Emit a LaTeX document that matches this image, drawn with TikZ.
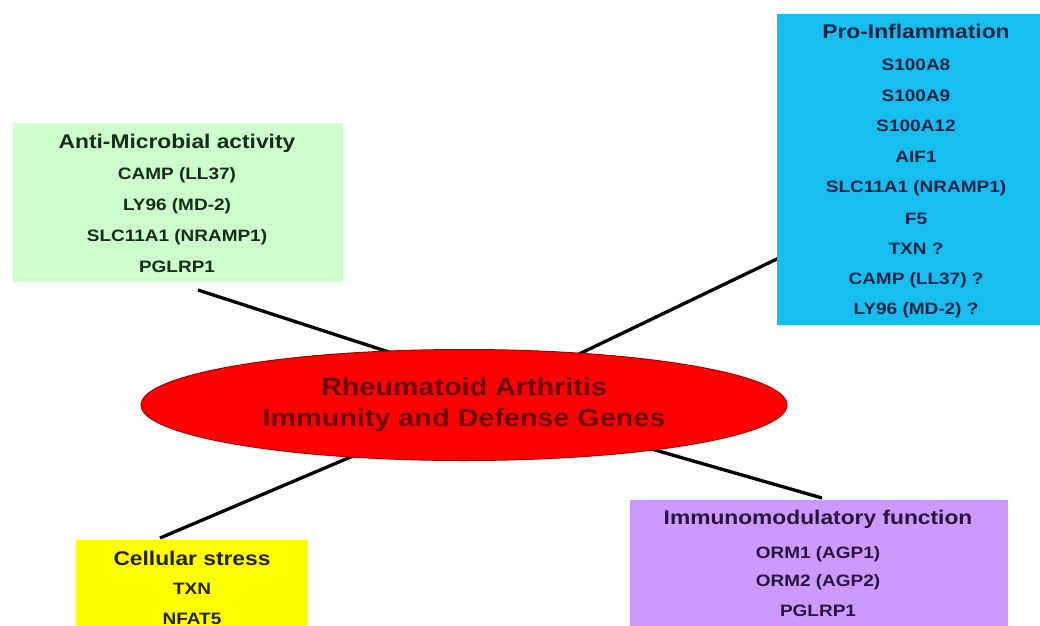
\documentclass[tikz,border=0pt]{standalone}
\usepackage{fontspec}
\setmainfont{Liberation Sans}[FakeStretch=1.15]
\usetikzlibrary{shapes.geometric,backgrounds,calc}
\definecolor{boxgreen}{RGB}{204,255,204}
\definecolor{boxblue}{RGB}{22,190,240}
\definecolor{boxyellow}{RGB}{255,255,0}
\definecolor{boxpurple}{RGB}{204,153,255}
\definecolor{hubred}{RGB}{255,0,0}
\definecolor{hubedge}{RGB}{170,0,0}
\definecolor{hubtext}{RGB}{105,0,0}
\definecolor{txtgreen}{RGB}{20,45,25}
\definecolor{txtblue}{RGB}{15,35,70}
\definecolor{txtyellow}{RGB}{35,35,0}
\definecolor{txtpurple}{RGB}{40,20,60}
\begin{document}
\begin{tikzpicture}[x=1pt,y=1pt,
  panel/.style={draw=none, inner sep=0pt, outer sep=0pt, anchor=north west},
  titletext/.style={font=\bfseries\fontsize{19.8}{24}\selectfont, inner sep=0pt, anchor=base},
  itemtext/.style={font=\bfseries\fontsize{16.5}{20}\selectfont, inner sep=0pt, anchor=base},
  conn/.style={line width=3.3pt, black}]
\useasboundingbox (0,0) rectangle (1040,625);
\clip (0,0) rectangle (1040,625);

% panels
\node[panel, fill=boxgreen, minimum width=330pt, minimum height=159pt] (green) at (13,502) {};
\node[panel, fill=boxblue, minimum width=278pt, minimum height=311pt] (blue) at (777,611) {};
\node[panel, fill=boxyellow, minimum width=232pt, minimum height=140pt] (yellow) at (76,85) {};
\node[panel, fill=boxpurple, minimum width=378pt, minimum height=150pt] (purple) at (630,125) {};

% hub
\node[ellipse, fill=hubred, draw=hubedge, line width=1pt, minimum width=646pt, minimum height=111pt,
      inner sep=0pt, outer sep=0pt, align=center, text=hubtext,
      font=\bfseries\fontsize{25}{31}\selectfont] (hub) at (464,220)
      {Rheumatoid Arthritis\\Immunity and Defense Genes};

% green texts
\begin{scope}[text=txtgreen]
\node[titletext] (gt) at (177,476) {Anti-Microbial activity};
\node[itemtext] (g1) at (177,446) {CAMP (LL37)};
\node[itemtext] (g2) at (177,415) {LY96 (MD-2)};
\node[itemtext] (g3) at (177,384) {SLC11A1 (NRAMP1)};
\node[itemtext] (g4) at (177,353) {PGLRP1};
\end{scope}

% blue texts
\begin{scope}[text=txtblue]
\node[titletext] (bt) at (916,586) {Pro-Inflammation};
\node[itemtext] (b1) at (916,554) {S100A8};
\node[itemtext] (b2) at (916,523) {S100A9};
\node[itemtext] (b3) at (916,493) {S100A12};
\node[itemtext] (b4) at (916,462) {AIF1};
\node[itemtext] (b5) at (916,433) {SLC11A1 (NRAMP1)};
\node[itemtext] (b6) at (916,401) {F5};
\node[itemtext] (b7) at (916,371) {TXN ?};
\node[itemtext] (b8) at (916,341) {CAMP (LL37) ?};
\node[itemtext] (b9) at (916,311) {LY96 (MD-2) ?};
\end{scope}

% yellow texts
\begin{scope}[text=txtyellow]
\node[titletext] (yt) at (192,60) {Cellular stress};
\node[itemtext] (y1) at (192,31) {TXN};
\node[itemtext] (y2) at (192,1) {NFAT5};
\end{scope}

% purple texts
\begin{scope}[text=txtpurple]
\node[titletext] (pt) at (818,101) {Immunomodulatory function};
\node[itemtext] (p1) at (818,67) {ORM1 (AGP1)};
\node[itemtext] (p2) at (818,39) {ORM2 (AGP2)};
\node[itemtext] (p3) at (818,9) {PGLRP1};
\end{scope}

% connectors behind
\begin{pgfonlayer}{background}
\fill[white] (0,0) rectangle (1040,625);
\draw[conn] ($(green.south west)+(185,-8)$) -- ($(hub.center)+(-66,50)$);
\draw[conn] ($(hub.center)+(113,50)$) -- ($(blue.north west)+(2,-244)$);
\draw[conn] ($(hub.center)+(-111,-51)$) -- ($(yellow.north west)+(84,2)$);
\draw[conn] ($(hub.center)+(184,-43)$) -- ($(purple.north west)+(192,2)$);
\end{pgfonlayer}
\end{tikzpicture}
\end{document}
